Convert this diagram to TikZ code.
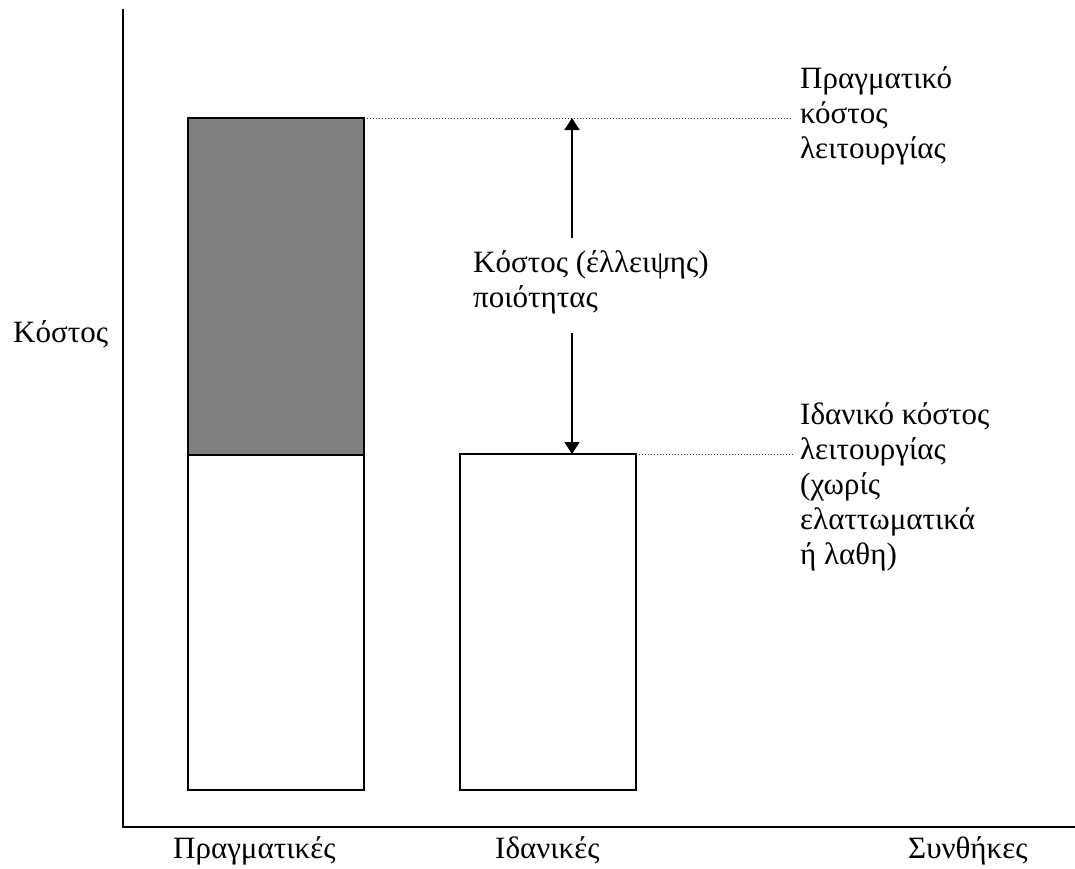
\documentclass[tikz,border=0pt]{standalone}
\usepackage{fontspec}
\setmainfont{Liberation Serif}
\usetikzlibrary{arrows.meta}
\tikzset{
  lbl/.style={inner sep=0pt, anchor=base west, align=left, font=\fontsize{31}{35}\selectfont},
  axis/.style={line width=1.6pt, line cap=rect},
  bar/.style={line width=1.3pt},
  guide/.style={dotted, line width=1pt, black!80},
  dim/.style={line width=1.4pt, -{Triangle[length=12pt,width=15pt]}},
}
\begin{document}
\begin{tikzpicture}[x=1pt,y=-1pt]
\useasboundingbox (0,0) rectangle (1075,868);
% axes
\coordinate (ytop) at (123,10);
\coordinate (origin) at (123,827);
\coordinate (xend) at (1075,827);
\draw[axis] (ytop) -- (origin) -- (xend);
% bars
\coordinate (b1tl) at (188,118);
\coordinate (b1ml) at (188,455);
\coordinate (b1mr) at (364,455);
\coordinate (b1tr) at (364,118);
\coordinate (b1br) at (364,790);
\fill[black!50] (b1tl) rectangle (b1mr);
\draw[bar] (b1tl) rectangle (b1br);
\draw[bar] (b1ml) -- (b1mr);
\coordinate (b2tl) at (460,454);
\coordinate (b2tr) at (636,454);
\coordinate (b2br) at (636,790);
\draw[bar] (b2tl) rectangle (b2br);
% labels
\node[lbl] (ylab) at (13,342) {Κόστος};
\node[lbl] (xl1) at (173,858) {Πραγματικές};
\node[lbl] (xl2) at (495,858) {Ιδανικές};
\node[lbl] (xl3) at (908,858) {Συνθήκες};
\node[lbl] (real) at (800,158) {Πραγματικό\\κόστος\\λειτουργίας};
\node[lbl] (ideal) at (800,564) {Ιδανικό κόστος\\λειτουργίας\\(χωρίς\\ελαττωματικά\\ή λαθη)};
\node[lbl] (qual) at (473,307) {Κόστος (έλλειψης)\\ποιότητας};
% guides
\coordinate (g1) at (792,118);
\coordinate (g2) at (794,454);
\draw[guide] (b1tr) -- (g1);
\draw[guide] (b2tr) -- (g2);
% dimension arrows
\coordinate (atop) at (572,118);
\coordinate (abot) at (572,454);
\coordinate (a1s) at (572,238);
\coordinate (a2s) at (572,333);
\draw[dim] (a1s) -- (atop);
\draw[dim] (a2s) -- (abot);
\end{tikzpicture}
\end{document}
